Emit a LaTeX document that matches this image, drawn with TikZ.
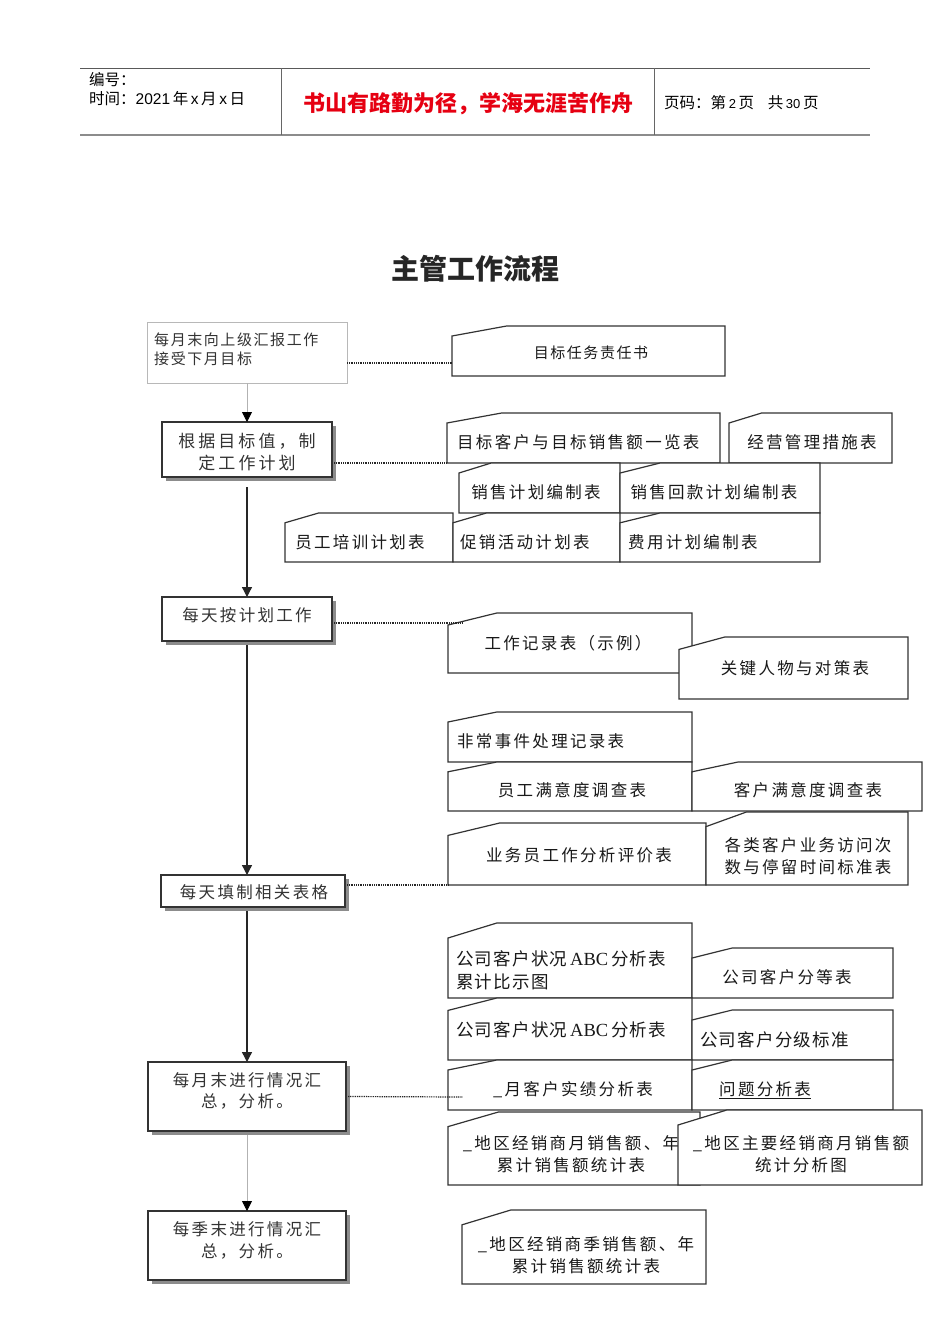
\documentclass[tikz,border=0pt]{standalone}
\usepackage{fontspec}
\setmainfont{Noto Sans CJK SC}
\newfontfamily\cjkplain{Noto Sans CJK SC}
\newfontfamily\cjkwide[LetterSpace=14]{Noto Sans CJK SC}
\newfontfamily\cjkwider[LetterSpace=18]{Noto Sans CJK SC}
\newfontfamily\cjkmid[LetterSpace=10.5]{Noto Sans CJK SC}
\newfontfamily\cjkabc[LetterSpace=7]{Noto Sans CJK SC}
\newfontfamily\serifL{Liberation Serif}
\newfontfamily\sansL{Liberation Sans}
\usetikzlibrary{arrows.meta,shadows,calc}
\definecolor{motto}{RGB}{230,0,18}
\newcommand\fsz[2]{\fontsize{#1}{#2}\selectfont}
% empty box node: name, x0, y0, x1, y1, style
\newcommand\boxnode[6]{\node[#6, minimum width={(#4-#2)*1pt}, minimum height={(#5-#3)*1pt}, anchor=north west] (#1) at (#2,#3) {};}
% document shape with cut corner: name, x0, y0, x1, y1
\newcommand\docnode[5]{%
  \node[inner sep=0pt, outer sep=0pt, minimum width={(#4-#2)*1pt}, minimum height={(#5-#3)*1pt}, anchor=north west] (#1) at (#2,#3) {};
  \path[docline] ($(#1.north west)!0.2!(#1.south west)$) -- ($(#1.north west)!0.2!(#1.north east)$) -- (#1.north east) -- (#1.south east) -- (#1.south west) -- cycle;}
\begin{document}
\begin{tikzpicture}[x=1pt,y=-1pt,
  flowbox/.style={draw=black!80, line width=1.4pt, fill=white, inner sep=0pt, outer sep=0pt,
    drop shadow={shadow xshift=3.5pt, shadow yshift=-3.5pt, fill=black!45, opacity=1}},
  lightbox/.style={draw=black!28, line width=0.8pt, fill=white, inner sep=0pt, outer sep=0pt},
  flowtext/.style={font=\cjkwide\fsz{16.5}{21}, text=black!80, align=center, inner sep=0pt},
  docline/.style={draw=black!80, line width=1.2pt, fill=white, line join=miter},
  doctext/.style={font=\cjkwide\fsz{16.5}{22.5}, text=black!90, align=center, inner sep=0pt},
  abctext/.style={font=\cjkabc\fsz{17.5}{23}, text=black!90, align=left, inner sep=0pt},
  hdrtext/.style={anchor=west, inner sep=0pt, font=\cjkplain\fsz{15.5}{17}},
  dotline/.style={draw=black!85, line width=1.2pt, dash pattern=on 1pt off 0.8pt},
  arrowthick/.style={draw=black!85, line width=1.3pt, -{Triangle[width=10pt,length=10pt]}},
  arrowthin/.style={draw=black!30, line width=0.8pt, -{Triangle[width=10pt,length=10pt,color=black]}}
]
\useasboundingbox (0,0) rectangle (950,1344);
\fill[white] (0,0) rectangle (950,1344);

% ---------- header ----------
\draw[black!65, line width=0.8pt] (80,68) -- (870,68);
\draw[black!45, line width=2pt] (80,135) -- (870,135);
\draw[black!60, line width=0.8pt] (281,68) -- (281,135);
\draw[black!60, line width=0.8pt] (654,68) -- (654,135);
\node[hdrtext] (hnum) at (89,80) {编号：};
\node[hdrtext] (hdate) at (89,99) {时间：{\sansL 2021}\,年\,{\sansL x}\,月\,{\sansL x}\,日};
\node[inner sep=0pt, font=\cjkplain\bfseries\fsz{22}{24}, text=motto] (motto) at (468,104) {书山有路勤为径，学海无涯苦作舟};
\node[hdrtext] (hpage) at (664,103) {页码：第\,{\sansL\fsz{13}{14}2}\,页\enspace\, 共\,{\sansL\fsz{13}{14}30}\,页};

% ---------- title ----------
\node[inner sep=0pt, font=\cjkplain\bfseries\fsz{28}{30}, text=black!85] (title) at (475,269) {主管工作流程};

% ---------- left flow ----------
\boxnode{A}{147}{322}{347}{383}{lightbox}
\node[anchor=west, font=\cjkmid\fsz{15}{19}, text=black!80, align=left, inner sep=0pt] (tA) at (154,349.5) {每月末向上级汇报工作\\接受下月目标};
\boxnode{B}{162}{422}{332}{477}{flowbox}
\node[flowtext, font=\cjkwider\fsz{17}{22}] (tB) at (247,452) {根据目标值，制\\定工作计划};
\boxnode{C}{162}{597}{332}{641}{flowbox}
\node[flowtext] (tC) at (247,615) {每天按计划工作};
\boxnode{D}{161}{875}{345}{907}{flowbox}
\node[flowtext] (tD) at (254,892) {每天填制相关表格};
\boxnode{E}{148}{1062}{346}{1131}{flowbox}
\node[flowtext] (tE) at (247,1091) {每月末进行情况汇\\总，分析。};
\boxnode{F}{148}{1211}{346}{1280}{flowbox}
\node[flowtext, font=\cjkwide\fsz{16.5}{22}] (tF) at (247,1240) {每季末进行情况汇\\总，分析。};

\draw[arrowthin] (A.south) -- (A.south |- B.north);
\draw[arrowthick] ([yshift=-10pt]B.south) -- (B.south |- C.north);
\draw[arrowthick] ([yshift=-4pt]C.south) -- (C.south |- D.north);
\draw[arrowthick] ([yshift=-4pt]C.south |- D.south) -- (C.south |- E.north);
\draw[arrowthin] ([yshift=-4pt]E.south) -- (E.south |- F.north);

% ---------- group 1 ----------
\docnode{D1}{452}{326}{725}{376}
\node[doctext, font=\cjkmid\fsz{15}{18}] (tD1) at (591,353) {目标任务责任书};

% ---------- group 2 ----------
\docnode{D2}{447}{413}{720}{463}
\node[doctext, anchor=west] (tD2) at (457,442) {目标客户与目标销售额一览表};
\docnode{D3}{729}{413}{892}{463}
\node[doctext] (tD3) at (812,442) {经营管理措施表};
\docnode{D4}{459}{463}{620}{513}
\node[doctext] (tD4) at (536,492) {销售计划编制表};
\docnode{D5}{620}{463}{820}{513}
\node[doctext] (tD5) at (714,492) {销售回款计划编制表};
\docnode{D6}{285}{513}{453}{562}
\node[doctext] (tD6) at (360,542) {员工培训计划表};
\docnode{D7}{453}{513}{620}{562}
\node[doctext, anchor=west] (tD7) at (460,542) {促销活动计划表};
\docnode{D8}{620}{513}{820}{562}
\node[doctext, anchor=west] (tD8) at (628,542) {费用计划编制表};

% ---------- group 3 ----------
\docnode{W1}{448}{613}{692}{673}
\node[doctext] (tW1) at (568,643) {工作记录表（示例）};
\docnode{W2}{679}{637}{908}{699}
\node[doctext] (tW2) at (795,668) {关键人物与对策表};

% ---------- group 4 ----------
\docnode{E1}{448}{712}{692}{762}
\node[doctext, anchor=west] (tE1) at (457,741) {非常事件处理记录表};
\docnode{E2}{448}{762}{692}{811}
\node[doctext] (tE2) at (572,790) {员工满意度调查表};
\docnode{E3}{692}{762}{922}{811}
\node[doctext] (tE3) at (808,790) {客户满意度调查表};
\docnode{E4}{448}{823}{706}{885}
\node[doctext] (tE4) at (579,855) {业务员工作分析评价表};
\docnode{E5}{706}{812}{908}{885}
\node[doctext] (tE5) at (808,856) {各类客户业务访问次\\数与停留时间标准表};

% ---------- group 5 ----------
\docnode{F1}{448}{923}{692}{998}
\node[abctext, anchor=west] (tF1) at (456,970) {公司客户状况\,{\serifL\fsz{18.5}{23}ABC}\,分析表\\累计比示图};
\docnode{F2}{692}{948}{893}{998}
\node[doctext] (tF2) at (787,977) {公司客户分等表};
\docnode{F3}{448}{998}{692}{1060}
\node[abctext, anchor=west] (tF3) at (456,1030) {公司客户状况\,{\serifL\fsz{18.5}{23}ABC}\,分析表};
\docnode{F4}{692}{1010}{893}{1060}
\node[abctext, anchor=west] (tF4) at (700,1040) {公司客户分级标准};
\docnode{F5}{448}{1060}{692}{1110}
\node[doctext] (tF5) at (573,1090) {\_月客户实绩分析表};
\docnode{F6}{692}{1060}{893}{1110}
\node[doctext, anchor=west] (tF6) at (719,1090) {\underline{问题分析表}};
\docnode{F7}{448}{1112}{700}{1185}
\node[doctext] (tF7) at (571,1154) {\_地区经销商月销售额、年\\累计销售额统计表};
\docnode{F8}{678}{1110}{922}{1185}
\node[doctext] (tF8) at (801,1154) {\_地区主要经销商月销售额\\统计分析图};

% ---------- group 6 ----------
\docnode{G1}{462}{1210}{706}{1284}
\node[doctext] (tG1) at (586,1255) {\_地区经销商季销售额、年\\累计销售额统计表};

% ---------- dotted connectors ----------
\coordinate (cEnd) at (463,623);
\coordinate (eEnd) at (463,1097);
\draw[dotline] ([yshift=-10.5pt]A.east) -- ([yshift=-10.5pt]A.east -| D1.west);
\draw[dotline] ([xshift=2pt,yshift=-13.5pt]B.east) -- ([yshift=-13.5pt]B.east -| D2.west);
\draw[dotline] ([xshift=2pt,yshift=-4pt]C.east) -- (cEnd);
\draw[dotline] ([xshift=2pt,yshift=6pt]D.east) -- ([yshift=6pt]D.east -| E4.west);
\draw[dotline] ([xshift=2pt]E.east) -- (eEnd);
\end{tikzpicture}
\end{document}
